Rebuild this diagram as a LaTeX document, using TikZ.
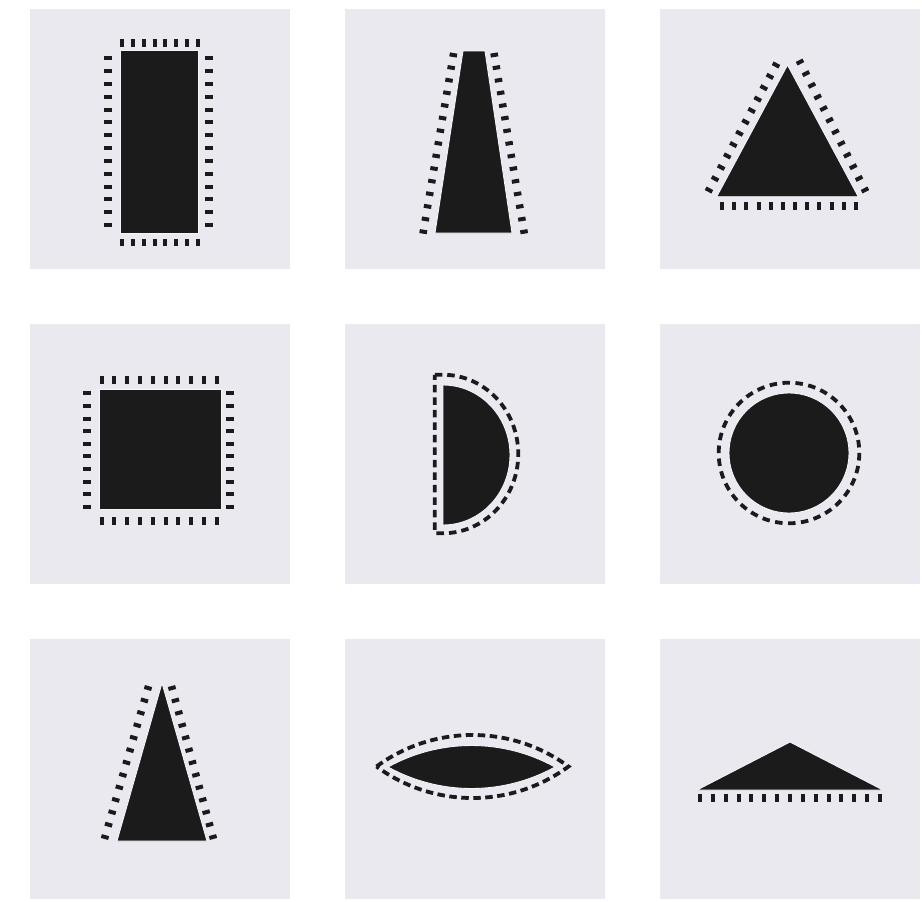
\documentclass[tikz,border=0pt]{standalone}
\definecolor{panel}{HTML}{E9E9EF}
\definecolor{ink}{HTML}{1B1B1B}
\begin{document}
\begin{tikzpicture}[x=1pt,y=-1pt,
  panelbox/.style={fill=panel},
  solidshape/.style={fill=ink, draw=white!60!panel, line width=0.9pt},
  tk/.style={draw=ink, line width=7.5pt, dash pattern=on 4pt off #1pt, shorten <=-2pt, shorten >=-2pt},
  dsh/.style={draw=ink, line width=3.8pt, dash pattern=on 7.5pt off #1pt}]
\path[use as bounding box, fill=white] (0,0) rectangle (922,902);
% panels
\foreach \c in {29.5,344.5,659.5}{
  \foreach \r in {8.5,323.5,638.5}{
    \fill[panel] (\c,\r) rectangle ++(260.5,260.5);
  }
}
% 1 tall rectangle
\path[solidshape] (120,50.7) rectangle (198,233);
\draw[tk=6.94] (121.7,43) -- (198.3,43);
\draw[tk=6.94] (121.7,242.5) -- (198.3,242.5);
\draw[tk=8.82] (108,58.3) -- (108,225);
\draw[tk=8.82] (209.2,58.3) -- (209.2,225);
% 2 trapezoid
\path[solidshape] (463,51) -- (485,51) -- (512,233) -- (435,233) -- cycle;
\draw[tk=8.8] (453.3,55) -- (423.3,231.7);
\draw[tk=8.8] (494.3,55) -- (524,231.7);
% 3 triangle
\path[solidshape] (787.5,65) -- (858.3,196.7) -- (716.7,196.7) -- cycle;
\draw[tk=8.9] (776,65) -- (709,190);
\draw[tk=9.05] (800,62) -- (865,190);
\draw[tk=8.18] (722,206) -- (856,206);
% 4 square
\path[solidshape] (99,389) rectangle (221,509);
\draw[tk=8.78] (101.7,380) -- (216.7,380);
\draw[tk=8.78] (101.7,521) -- (216.7,521);
\draw[tk=8.6] (87,393.3) -- (87,506.7);
\draw[tk=8.6] (230,393.3) -- (230,506.7);
% 5 half disc
\path[solidshape] (443,385) arc[start angle=-90, end angle=90, x radius=67, y radius=70] -- cycle;
\draw[dsh=5] (434.75,374.75) -- (443,374.75) arc[start angle=-90, end angle=90, x radius=75.25, y radius=79.25] -- (434.75,533.25) -- cycle;
% 6 circle
\path[solidshape] (789,453) circle[radius=60];
\draw[dsh=5.49] (789,453) circle[radius=70.3];
% 7 tall triangle
\path[solidshape] (162,683) -- (207,841) -- (117,841) -- cycle;
\draw[tk=8.93] (148,688) -- (105,837);
\draw[tk=8.88] (172,688) -- (213,837);
% 8 lens
\path[solidshape] (388,767) .. controls (439.97,738.33) and (503.03,738.33) .. (555,767)
  .. controls (503.03,795.67) and (439.97,795.67) .. (388,767) -- cycle;
\draw[dsh=4.5] (376.5,766.5) .. controls (433.62,724.49) and (511.38,724.49) .. (568.5,766.5)
  .. controls (511.38,808.51) and (433.62,808.51) .. (376.5,766.5) -- cycle;
% 9 flat triangle
\path[solidshape] (790,742) -- (883,790) -- (697,790) -- cycle;
\draw[tk=8.86] (700,798) -- (880,798);
\end{tikzpicture}
\end{document}
